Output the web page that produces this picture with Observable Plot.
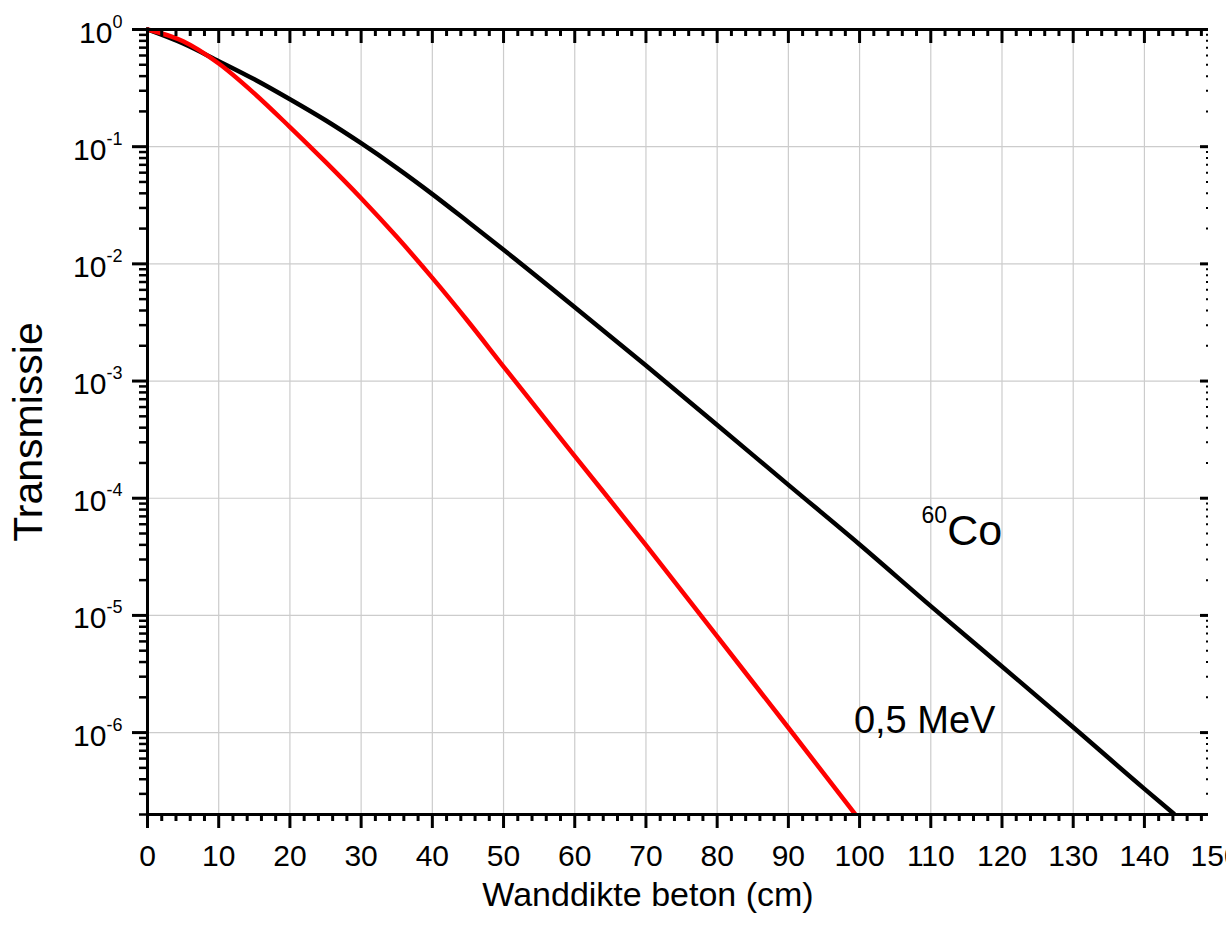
<!DOCTYPE html>
<html>
<head>
<meta charset="utf-8">
<script src="https://cdn.jsdelivr.net/npm/d3@7"></script>
<script src="https://cdn.jsdelivr.net/npm/@observablehq/plot@0.6"></script>
<style>
  html, body { margin: 0; padding: 0; background: #fff; }
  svg { display: block; }
</style>
</head>
<body>
<div id="chart"></div>
<script>
// ---- data ----
const thicknessCo = [0, 5, 10, 15, 20, 25, 30, 35, 40, 45, 50, 60, 70, 80, 90, 100, 110, 120, 130, 140, 144.1];
const transmissionCo = [1, 0.759, 0.537, 0.376, 0.254, 0.168, 0.107, 0.066, 0.0394, 0.0229, 0.0132, 0.00427, 0.00136,
  4.22e-4, 1.30e-4, 4.03e-5, 1.20e-5, 3.67e-6, 1.11e-6, 3.31e-7, 2.04e-7];

const thicknessMeV = [0, 5, 10, 15, 20, 25, 30, 35, 40, 45, 50, 60, 70, 80, 90, 99.3];
const transmissionMeV = [1, 0.794, 0.513, 0.285, 0.147, 0.0741, 0.0363, 0.0170, 0.00759, 0.00324, 0.00133, 2.29e-4,
  3.98e-5, 6.61e-6, 1.10e-6, 2.04e-7];

const seriesNames = ["60Co", "0,5 MeV"];
const seriesColors = ["#000000", "#ff0000"];
const labelX = [108.7, 99.2];
const labelY = [4.0e-5, 1e-6];

const xMajorTicks = [0, 10, 20, 30, 40, 50, 60, 70, 80, 90, 100, 110, 120, 130, 140];
const xTickLabels = [0, 10, 20, 30, 40, 50, 60, 70, 80, 90, 100, 110, 120, 130, 140, 150];
const xMinorTicks = [2, 4, 6, 8, 12, 14, 16, 18, 22, 24, 26, 28, 32, 34, 36, 38, 42, 44, 46, 48, 52, 54, 56, 58,
  62, 64, 66, 68, 72, 74, 76, 78, 82, 84, 86, 88, 92, 94, 96, 98, 102, 104, 106, 108, 112, 114, 116, 118,
  122, 124, 126, 128, 132, 134, 136, 138, 142, 144, 146, 148];
const yMajorTicks = [1, 1e-1, 1e-2, 1e-3, 1e-4, 1e-5, 1e-6];
const yTickExponents = ["0", "-1", "-2", "-3", "-4", "-5", "-6"];
const yMinorTicks = [
  2e-7, 3e-7, 4e-7, 5e-7, 6e-7, 7e-7, 8e-7, 9e-7,
  2e-6, 3e-6, 4e-6, 5e-6, 6e-6, 7e-6, 8e-6, 9e-6,
  2e-5, 3e-5, 4e-5, 5e-5, 6e-5, 7e-5, 8e-5, 9e-5,
  2e-4, 3e-4, 4e-4, 5e-4, 6e-4, 7e-4, 8e-4, 9e-4,
  2e-3, 3e-3, 4e-3, 5e-3, 6e-3, 7e-3, 8e-3, 9e-3,
  0.02, 0.03, 0.04, 0.05, 0.06, 0.07, 0.08, 0.09,
  0.2, 0.3, 0.4, 0.5, 0.6, 0.7, 0.8, 0.9];

const xDomain = [0, 149];
const yDomain = [2e-7, 1];

const coData = thicknessCo.map((x, i) => ({x, y: transmissionCo[i]}));
const mevData = thicknessMeV.map((x, i) => ({x, y: transmissionMeV[i]}));
const labels = seriesNames.map((name, i) => ({name, x: labelX[i], y: labelY[i]}));

const xMin = xDomain[0], xMax = xDomain[1], yMin = yDomain[0], yMax = yDomain[1];

const svg = Plot.plot({
  width: 1226,
  height: 937,
  marginLeft: 147,
  marginRight: 18,
  marginTop: 29,
  marginBottom: 123,
  style: {fontFamily: "'Liberation Sans', Arial, Helvetica, sans-serif", background: "#fff", color: "#000"},
  x: {type: "linear", domain: xDomain, axis: null},
  y: {type: "log", domain: yDomain, axis: null},
  marks: [
    // grid
    Plot.ruleX(xMajorTicks.filter(d => d > 0), {x: d => d, stroke: "#cccccc", strokeWidth: 1.2}),
    Plot.ruleY(yMajorTicks.filter(d => d < 1), {y: d => d, stroke: "#cccccc", strokeWidth: 1.2}),
    // curves
    Plot.line(coData, {x: "x", y: "y", stroke: seriesColors[0], strokeWidth: 4.5, curve: "monotone-x"}),
    Plot.line(mevData, {x: "x", y: "y", stroke: seriesColors[1], strokeWidth: 4.5, curve: "monotone-x"}),
    // frame lines (left, bottom, top)
    Plot.ruleX([xMin], {x: d => d, stroke: "#000", strokeWidth: 3, insetTop: -1.5, insetBottom: -1.5}),
    Plot.ruleY([yMin], {y: d => d, stroke: "#000", strokeWidth: 3}),
    Plot.ruleY([yMax], {y: d => d, stroke: "#000", strokeWidth: 3}),
    // bottom ticks (outward)
    Plot.ruleX(xMajorTicks, {x: d => d, y1: yMin, y2: yMin, insetTop: 14, stroke: "#000", strokeWidth: 3}),
    Plot.ruleX(xMinorTicks, {x: d => d, y1: yMin, y2: yMin, insetTop: 7, stroke: "#000", strokeWidth: 3}),
    // top ticks (inward)
    Plot.ruleX(xMajorTicks, {x: d => d, y1: yMax, y2: yMax, insetBottom: -14, stroke: "#000", strokeWidth: 3}),
    Plot.ruleX(xMinorTicks, {x: d => d, y1: yMax, y2: yMax, insetBottom: -7, stroke: "#000", strokeWidth: 3}),
    // left ticks (outward)
    Plot.ruleY(yMajorTicks, {y: d => d, x1: xMin, x2: xMin, insetRight: 15, stroke: "#000", strokeWidth: 3}),
    Plot.ruleY(yMinorTicks, {y: d => d, x1: xMin, x2: xMin, insetRight: 8, stroke: "#000", strokeWidth: 2.5}),
    // right ticks (inward)
    Plot.ruleY(yMajorTicks, {y: d => d, x1: xMax, x2: xMax, insetLeft: -8, stroke: "#000", strokeWidth: 3}),
    Plot.ruleY(yMinorTicks, {y: d => d, x1: xMax, x2: xMax, insetLeft: -2, stroke: "#000", strokeWidth: 2}),
    // x tick labels
    Plot.text(xTickLabels, {x: d => d, frameAnchor: "bottom", text: d => String(d), dy: 51,
      lineAnchor: "bottom", fontSize: 30, fill: "#000"}),
    // y tick labels (exponent turned into a superscript tspan below)
    Plot.text(yMajorTicks, {y: d => d, frameAnchor: "left", text: (d, i) => "10^" + yTickExponents[i], dx: -25, dy: 13,
      textAnchor: "end", lineAnchor: "bottom", fontSize: 30, fill: "#000"}),
    // axis titles
    Plot.text(["Wanddikte beton (cm)"], {frameAnchor: "bottom", dx: -30, dy: 91, lineAnchor: "bottom",
      textAnchor: "middle", fontSize: 34, fill: "#000"}),
    Plot.text(["Transmissie"], {frameAnchor: "left", rotate: -90, dx: -119, dy: 10, lineAnchor: "middle",
      textAnchor: "middle", fontSize: 41, fill: "#000"}),
    // curve labels
    Plot.text(labels, {x: "x", y: "y", text: "name", textAnchor: "start", lineAnchor: "bottom",
      fontSize: 38, fill: "#000"})
  ]
});

const NS = "http://www.w3.org/2000/svg";
svg.querySelectorAll("text").forEach(t => {
  const s = t.textContent;
  if (s.startsWith("10^")) {
    t.textContent = "";
    const base = document.createElementNS(NS, "tspan");
    base.textContent = "10";
    const sup = document.createElementNS(NS, "tspan");
    sup.setAttribute("dy", "-15");
    sup.setAttribute("font-size", "18");
    sup.textContent = s.slice(3);
    t.append(base, sup);
  } else if (s === seriesNames[0]) {
    t.textContent = "";
    const sup = document.createElementNS(NS, "tspan");
    sup.setAttribute("dy", "-22");
    sup.setAttribute("font-size", "23");
    sup.textContent = s.slice(0, 2);
    const rest = document.createElementNS(NS, "tspan");
    rest.setAttribute("dy", "22");
    rest.setAttribute("font-size", "43");
    rest.textContent = s.slice(2);
    t.append(sup, rest);
  }
});

document.getElementById("chart").append(svg);
</script>
</body>
</html>
